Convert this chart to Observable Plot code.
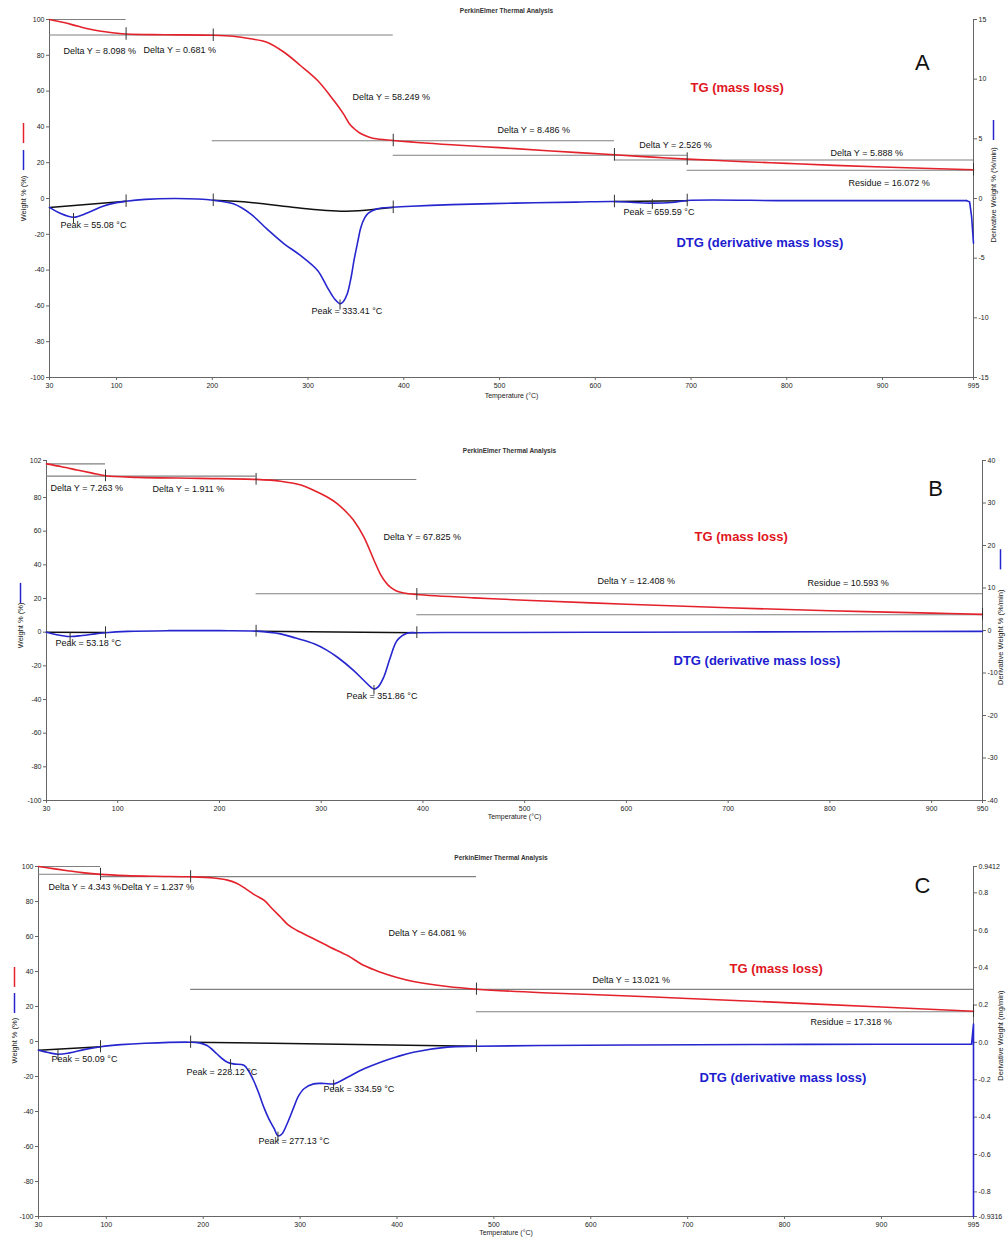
<!DOCTYPE html>
<html><head><meta charset="utf-8">
<script src="https://cdn.jsdelivr.net/npm/d3@7"></script>
<script src="https://cdn.jsdelivr.net/npm/@observablehq/plot@0.6"></script>
<style>
body{margin:0;background:#fff;font-family:"Liberation Sans",Arial,sans-serif}
#wrap{position:relative;width:1008px;height:1242px;overflow:hidden;background:#fff}
.panel{position:absolute;left:0}
</style>
</head><body><div id="wrap"></div>
<script>
// ---------- shared ----------
const title = "PerkinElmer Thermal Analysis";
const xLabel = "Temperature (°C)";
const yLabelLeft = "Weight % (%)";
const tgName = "TG (mass loss)";
const dtgName = "DTG (derivative mass loss)";

// ---------- Panel A ----------
const xTicksA = [30,100,200,300,400,500,600,700,800,900,995];
const yTicksLeftA = [-100,-80,-60,-40,-20,0,20,40,60,80,100];
const yTicksRightA = [-15,-10,-5,0,5,10,15];
const tgA = [[30,100],[45,98.3],[60,96.2],[75,94.3],[90,93],[110,91.9],[150,91.5],[201,91.2],[222,90.6],[240,89.2],[257,87.3],[275,81.7],[292,74.3],[310,65.9],[327,54.7],[337,47.3],[344,41.2],[350,38.2],[355,36.3],[362,34.6],[369,33.5],[389,32.4],[450,30],[500,28.4],[550,26.7],[620,24.4],[660,23.1],[696,22],[750,20.7],[800,19.6],[850,18.5],[900,17.6],[950,16.8],[995,16.1]];
const dtgA = [[30,-5],[40,-8],[55,-10.5],[70,-8],[85,-4.5],[100,-2.3],[110,-1.5],[130,-0.5],[160,0],[185,-0.3],[201,-1],[222,-3],[240,-8.6],[257,-17],[275,-25.3],[292,-31.8],[310,-40.2],[320,-49.5],[328,-56.3],[333.41,-58.8],[337,-57.5],[341,-53.2],[345,-44],[348,-34.6],[352,-24],[355,-16.5],[359,-11],[363,-8.2],[372,-5.8],[389,-4.9],[408,-4.3],[450,-3.4],[516,-2.6],[580,-2],[620,-1.7],[640,-2.2],[660,-2.6],[680,-2.2],[696,-1.1],[800,-1.2],[900,-1.2],[988,-1.2]];
const dtgATail = [[988,-1.2],[991,-2],[993,-10],[995,-25]];
const baseA = [
  [[30,-5],[110,-1.5]],
  [[201,-1],[240,-2.2],[280,-4.6],[310,-6.3],[334,-7.1],[360,-6.5],[389,-4.9]],
  [[620,-1.7],[696,-1.2]]
];
const levelsA = [[30,110,100],[30,389,91.3],[200,620,32.3],[389,696,24.2],[620,995,21.5],[696,995,15.8]];
const stepTicksA = [[110,91.9],[201,91.2],[389,32.4],[620,24.4],[696,22],[995,16.1],[110,-1.5],[201,-1],[389,-4.9],[620,-1.7],[696,-1.1]];
const peakTicksA = [[55.08,-10.5],[333.41,-58.8],[659.59,-2.6]];
const notesA = [[44.6,82.1,"Delta Y = 8.098 %"],[128.2,82.7,"Delta Y = 0.681 %"],[346.5,56.4,"Delta Y = 58.249 %"],[497.9,38,"Delta Y = 8.486 %"],[646,29.6,"Delta Y = 2.526 %"],[845.6,25.1,"Delta Y = 5.888 %"],[864.5,8.4,"Residue = 16.072 %"],[41.5,-15.1,"Peak = 55.08 °C"],[303.6,-63.1,"Peak = 333.41 °C"],[629.5,-7.8,"Peak = 659.59 °C"]];
const tgLabelA = [699.5,62];
const dtgLabelA = [684.8,-24.6];
const letterA = [941.7,76,"A"];

// ---------- Panel B ----------
const xTicksB = [30,100,200,300,400,500,600,700,800,900,950];
const yTicksLeftB = [-100,-80,-60,-40,-20,0,20,40,60,80,102];
const yTicksRightB = [-40,-30,-20,-10,0,10,20,30,40];
const tgB = [[30,100],[45,98.3],[60,96.4],[75,94.5],[88,92.9],[120,92],[180,91.4],[236,90.8],[260,89.7],[280,87.4],[293,84.2],[305,80.6],[316,76.3],[324,71.8],[332,66.4],[342,56.5],[352,42.6],[358,34.7],[363,30],[368,26.7],[374,24.5],[381,23.3],[394,22.4],[450,20.4],[500,19],[600,16.6],[700,14.5],[800,12.7],[900,11.3],[950,10.6]];
const dtgB = [[30,0],[40,-1.5],[53,-2.6],[65,-2],[78,-1],[88,-0.3],[110,0.5],[150,0.9],[200,0.9],[236,0.6],[260,-1],[275,-3.5],[293,-6.9],[305,-10.5],[316,-14.9],[332,-22.8],[342,-28.7],[351.86,-33.8],[356,-32.5],[361.5,-26.7],[368,-14.9],[374.6,-4.9],[384.4,-0.6],[394.4,-0.3],[450,-0.2],[600,0],[800,0.3],[950,0.5]];
const baseB = [
  [[30,0],[88,-0.2]],
  [[236,0.5],[394,-0.3]]
];
const levelsB = [[30,88,100],[30,236,92.7],[236,394,90.7],[236,950,22.8],[394,950,10.4]];
const stepTicksB = [[88,92.9],[236,90.8],[394,22.4],[950,10.6],[88,-0.3],[236,0.6],[394,-0.3]];
const peakTicksB = [[53.18,-2.6],[351.86,-33.8]];
const notesB = [[33.9,85.4,"Delta Y = 7.263 %"],[134.2,84.8,"Delta Y = 1.911 %"],[361.2,56.3,"Delta Y = 67.825 %"],[571.6,30.1,"Delta Y = 12.408 %"],[778,28.9,"Residue = 10.593 %"],[38.8,-6.7,"Peak = 53.18 °C"],[324.9,-38.2,"Peak = 351.86 °C"]];
const tgLabelB = [667,56.9];
const dtgLabelB = [646.3,-16.8];
const letterB = [903.8,84.8,"B"];

// ---------- Panel C ----------
const xTicksC = [30,100,200,300,400,500,600,700,800,900,995];
const yTicksLeftC = [-100,-80,-60,-40,-20,0,20,40,60,80,100];
const yTicksRightC = [-0.9316,-0.8,-0.6,-0.4,-0.2,0.0,0.2,0.4,0.6,0.8,0.9412];
const tgC = [[30,100],[45,98.8],[60,97.6],[75,96.5],[94,95.5],[120,94.8],[150,94.4],[187,94.1],[211,93.4],[225,92.2],[235,90.3],[245,86.8],[254,83.5],[263,80.6],[271,76],[280,71],[288,66.5],[297,63.4],[314,58.7],[331,53.9],[349,49.1],[366,43.4],[383,39.6],[400,36.6],[417,34.3],[452,31.4],[482,29.9],[550,27.9],[600,26.9],[700,24.6],[800,22.2],[900,19.7],[995,17.3]];
const dtgC = [[30,-5],[40,-6.3],[50.09,-7.3],[62,-6.5],[78,-4.5],[94,-3],[115,-1.8],[140,-1],[187,-0.4],[196,-0.8],[204,-2.3],[214,-7],[220,-10],[225,-11.8],[231,-12.8],[242,-13.6],[247,-17],[252,-22.3],[257,-29],[262.5,-37.5],[268,-44.5],[273,-49.5],[277.13,-53.9],[281,-53],[286.6,-47],[293.5,-37.5],[298,-31.5],[304,-27],[314,-24.2],[325,-24],[335,-24.2],[349,-20.4],[366,-15.6],[383,-11.8],[400,-8.7],[417,-6.1],[452,-3.2],[482,-2.7],[550,-2.3],[650,-2],[768,-1.7],[900,-1.6],[993,-1.6]];
const dtgCTail = [[993,-1.6],[995,10],[995,-100]];
const baseC = [
  [[30,-5],[94,-3]],
  [[187,-0.4],[482,-2.7]]
];
const levelsC = [[30,94,100],[30,94,95.6],[94,482,94.2],[187,995,29.8],[482,995,17]];
const stepTicksC = [[94,95.5],[187,94.1],[482,29.9],[995,17.3],[94,-3],[187,-0.4],[482,-2.7]];
const peakTicksC = [[50.09,-7.3],[228.12,-12.4],[277.13,-53.9],[334.59,-24.2]];
const notesC = [[40.3,88,"Delta Y = 4.343 %"],[115.7,88,"Delta Y = 1.237 %"],[391.2,61.7,"Delta Y = 64.081 %"],[601.8,34.9,"Delta Y = 13.021 %"],[826.8,10.9,"Residue = 17.318 %"],[43.4,-10.3,"Peak = 50.09 °C"],[182.7,-17.7,"Peak = 228.12 °C"],[324.1,-27.4,"Peak = 334.59 °C"],[257.1,-57.1,"Peak = 277.13 °C"]];
const tgLabelC = [743.2,41.7];
const dtgLabelC = [712.2,-20.6];
const letterC = [942.4,88.6,"C"];

// ---------- drawing ----------
const RED = "#e4222b", BLUE = "#2626cf", LBL_RED = "#e0161f", LBL_BLUE = "#1d1dd0";
const FONT = "Liberation Sans, Arial, sans-serif";

function panel(cfg) {
  const xd = [cfg.xTicks[0], cfg.xTicks[cfg.xTicks.length-1]];
  const yd = [cfg.yTicksLeft[0], cfg.yTicksLeft[cfg.yTicksLeft.length-1]];
  const marks = [
    Plot.ruleX(xd, {stroke:"#666", strokeWidth:1}),
    Plot.ruleY([yd[0]], {stroke:"#666", strokeWidth:1}),
    Plot.axisX({ticks: cfg.xTicks, tickSize:3, tickPadding:3, tickFormat: d=>String(d), label:null, fontSize:7, stroke:"#666"}),
    Plot.axisY({ticks: cfg.yTicksLeft, anchor:"left", tickSize:3, tickPadding:2, tickFormat: d=>String(d), label:null, fontSize:7, stroke:"#666"}),
    Plot.axisY({ticks: cfg.yTicksRight.map(cfg.toLeft), anchor:"right", tickSize:3, tickPadding:2, tickFormat: d=>cfg.fmtRight(cfg.fromLeft(d)), label:null, fontSize:7, stroke:"#666"}),
    Plot.text([xLabel], {frameAnchor:"bottom", textAnchor:"middle", dy: cfg.xLabelDy, fontSize:7}),
    Plot.text([title], {frameAnchor:"top", textAnchor:"middle", dy: cfg.titleDy, dx: -5, fontSize:6.5, fontWeight:"bold", fill:"#333"}),
    Plot.text([yLabelLeft], {y: ()=>cfg.leftLabelY, frameAnchor:"left", textAnchor:"middle", dx: cfg.leftLabelDx, rotate:-90, fontSize:7.5}),
    ...cfg.leftSwatches.map(s => Plot.ruleX([xd[0]], {y1: s[0], y2: s[1], dx: cfg.leftLabelDx, stroke: s[2], strokeWidth:1.5})),
    Plot.text([cfg.rightTitle], {y: ()=>cfg.rightLabelY, frameAnchor:"right", textAnchor:"middle", dx: cfg.rightLabelDx, rotate:-90, fontSize:7.5}),
    ...cfg.rightSwatches.map(s => Plot.ruleX([xd[1]], {y1: s[0], y2: s[1], dx: cfg.rightLabelDx, stroke: s[2], strokeWidth:1.5})),
    Plot.ruleY(cfg.levels, {x1: d=>d[0], x2: d=>d[1], y: d=>d[2], stroke:"#808080", strokeWidth:1.1}),
    ...cfg.base.map(b => Plot.line(b, {x: d=>d[0], y: d=>d[1], stroke:"#111", strokeWidth:1.5, curve:"catmull-rom"})),
    Plot.line(cfg.dtg, {x: d=>d[0], y: d=>d[1], stroke: BLUE, strokeWidth:1.6, curve:"catmull-rom"}),
    ...(cfg.dtgTail ? [Plot.line(cfg.dtgTail, {x: d=>d[0], y: d=>d[1], stroke: BLUE, strokeWidth:1.6})] : []),
    Plot.line(cfg.tg, {x: d=>d[0], y: d=>d[1], stroke: RED, strokeWidth:1.6, curve:"catmull-rom"}),
    Plot.ruleX(cfg.stepTicks, {x: d=>d[0], y1: d=>d[1]-cfg.tickHalf, y2: d=>d[1]+cfg.tickHalf, stroke:"#333", strokeWidth:1}),
    Plot.ruleX(cfg.peakTicks, {x: d=>d[0], y1: d=>d[1]-cfg.tickHalf, y2: d=>d[1]+cfg.tickHalf*0.6, stroke:"#333", strokeWidth:1}),
    Plot.text(cfg.notes, {x: d=>d[0], y: d=>d[1], text: d=>d[2], textAnchor:"start", fontSize:9, fill:"#111"}),
    Plot.text([cfg.tgLabel], {x: d=>d[0], y: d=>d[1], text: ()=>tgName, textAnchor:"start", fontSize:13, fontWeight:"bold", fill: LBL_RED}),
    Plot.text([cfg.dtgLabel], {x: d=>d[0], y: d=>d[1], text: ()=>dtgName, textAnchor:"start", fontSize:13, fontWeight:"bold", fill: LBL_BLUE}),
    Plot.text([cfg.letter], {x: d=>d[0], y: d=>d[1], text: d=>d[2], fontSize:22, fill:"#111"})
  ];
  const svg = Plot.plot({
    width: 1008, height: cfg.height,
    marginTop: cfg.mt, marginBottom: cfg.mb, marginLeft: cfg.ml, marginRight: cfg.mr,
    x: {domain: xd}, y: {domain: yd},
    style: {fontFamily: FONT, fontSize: "7px", color: "#222", background: "transparent", overflow: "visible"},
    marks
  });
  const div = document.createElement("div");
  div.className = "panel";
  div.style.top = cfg.top + "px";
  div.appendChild(svg);
  document.getElementById("wrap").appendChild(div);
}

panel({
  top: 0, height: 410, mt: 19, mb: 33, ml: 49, mr: 35,
  xTicks: xTicksA, yTicksLeft: yTicksLeftA, yTicksRight: yTicksRightA,
  toLeft: r => r*100/15, fromLeft: d => d*15/100, fmtRight: v => String(Math.round(v)),
  tg: tgA, dtg: dtgA, dtgTail: dtgATail, base: baseA, levels: levelsA, stepTicks: stepTicksA, peakTicks: peakTicksA,
  notes: notesA, tgLabel: tgLabelA, dtgLabel: dtgLabelA, letter: letterA,
  tickHalf: 3.5, xLabelDy: 20, titleDy: -11,
  leftLabelY: 0, leftLabelDx: -26, leftSwatches: [[30.7,41.9,RED],[15.6,26.8,BLUE]],
  rightTitle: "Derivative Weight % (%/min)", rightLabelY: 2, rightLabelDx: 20, rightSwatches: [[32.4,43.6,BLUE]]
});

panel({
  top: 440, height: 390, mt: 20, mb: 30, ml: 46, mr: 26,
  xTicks: xTicksB, yTicksLeft: yTicksLeftB, yTicksRight: yTicksRightB,
  toLeft: r => -100 + (r+40)/80*202, fromLeft: d => (d+100)/202*80 - 40, fmtRight: v => String(Math.round(v)),
  tg: tgB, dtg: dtgB, base: baseB, levels: levelsB, stepTicks: stepTicksB, peakTicks: peakTicksB,
  notes: notesB, tgLabel: tgLabelB, dtgLabel: dtgLabelB, letter: letterB,
  tickHalf: 3.5, xLabelDy: 18, titleDy: -12,
  leftLabelY: 4, leftLabelDx: -26, leftSwatches: [[17,29,BLUE]],
  rightTitle: "Derivative Weight % (%/min)", rightLabelY: -3, rightLabelDx: 18, rightSwatches: [[37,49,BLUE]]
});

panel({
  top: 845, height: 397, mt: 21, mb: 26, ml: 38, mr: 35,
  xTicks: xTicksC, yTicksLeft: yTicksLeftC, yTicksRight: yTicksRightC,
  toLeft: r => -100 + (r+0.9316)/1.8728*200, fromLeft: d => (d+100)/200*1.8728 - 0.9316,
  fmtRight: v => Math.abs(v-0.9412)<1e-3 ? "0.9412" : Math.abs(v+0.9316)<1e-3 ? "-0.9316" : Math.abs(v)<1e-6 ? "0.0" : v.toFixed(1),
  tg: tgC, dtg: dtgC, dtgTail: dtgCTail, base: baseC, levels: levelsC, stepTicks: stepTicksC, peakTicks: peakTicksC,
  notes: notesC, tgLabel: tgLabelC, dtgLabel: dtgLabelC, letter: letterC,
  tickHalf: 3.5, xLabelDy: 18, titleDy: -11,
  leftLabelY: 0.5, leftLabelDx: -24, leftSwatches: [[30.9,42.3,RED],[16,27.4,BLUE]],
  rightTitle: "Derivative Weight (mg/min)", rightLabelY: 3.4, rightLabelDx: 27, rightSwatches: []
});
</script>
</body></html>
